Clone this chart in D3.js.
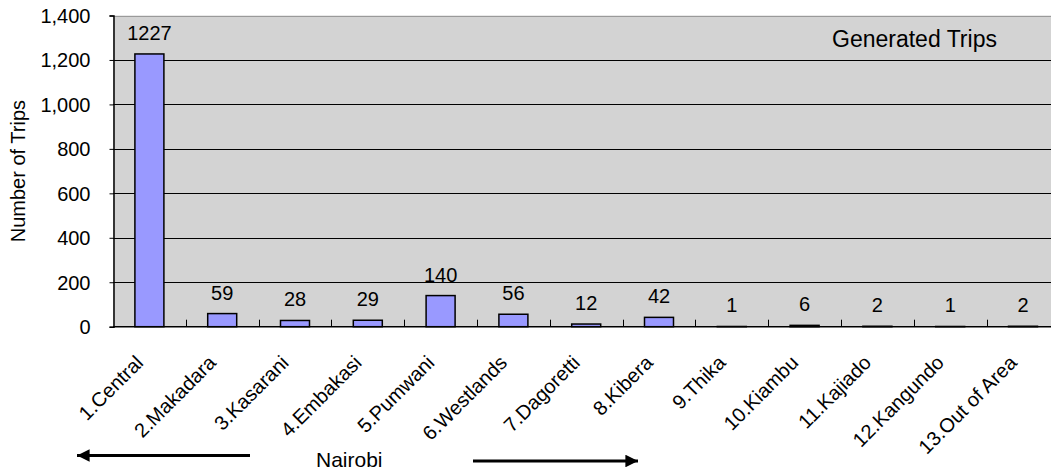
<!DOCTYPE html>
<html>
<head>
<meta charset="utf-8">
<script src="https://cdn.jsdelivr.net/npm/d3@7"></script>
<style>
  html, body { margin: 0; padding: 0; background: #ffffff; }
  svg { display: block; }
  text { font-family: "Liberation Sans", Arial, sans-serif; fill: #000; }
</style>
</head>
<body>
<svg id="chart" width="1051" height="474"></svg>
<script>
const categories = ["1.Central", "2.Makadara", "3.Kasarani", "4.Embakasi", "5.Pumwani", "6.Westlands",
  "7.Dagoretti", "8.Kibera", "9.Thika", "10.Kiambu", "11.Kajiado", "12.Kangundo", "13.Out of Area"];
const trips = [1227, 59, 28, 29, 140, 56, 12, 42, 1, 6, 2, 1, 2];
const yTicks = [0, 200, 400, 600, 800, 1000, 1200, 1400];
const chartTitle = "Generated Trips";
const yTitle = "Number of Trips";
const groupLabel = "Nairobi";

const svg = d3.select("#chart");
const plotLeft = 113, plotTop = 15.5, plotBottom = 326.7;
const bandW = 72.8;
const plotRight = plotLeft + bandW * categories.length;

const x = d3.scaleBand().domain(categories).range([plotLeft, plotRight]).paddingInner(0).paddingOuter(0);
const y = d3.scaleLinear().domain([0, 1400]).range([plotBottom, plotTop]);

// plot background
svg.append("rect")
  .attr("x", plotLeft).attr("y", plotTop)
  .attr("width", plotRight - plotLeft).attr("height", plotBottom - plotTop)
  .attr("fill", "#d3d3d3");

// gridlines
svg.append("g").selectAll("line")
  .data(yTicks.filter(d => d > 0))
  .join("line")
  .attr("x1", plotLeft).attr("x2", plotRight)
  .attr("y1", d => Math.round(y(d)) + 0.5).attr("y2", d => Math.round(y(d)) + 0.5)
  .attr("stroke", d => d === 1400 ? "#9a9a9a" : "#000")
  .attr("stroke-width", 1);

// bars
const barW = 29;
svg.append("g").selectAll("rect")
  .data(categories.map((c, i) => ({ c, v: trips[i] })))
  .join("rect")
  .attr("x", d => x(d.c) + x.bandwidth() / 2 - barW / 2)
  .attr("y", d => y(d.v))
  .attr("width", barW)
  .attr("height", d => y(0) - y(d.v))
  .attr("fill", "#9999ff")
  .attr("stroke", "#000")
  .attr("stroke-width", 1.5);

// data labels
svg.append("g").selectAll("text")
  .data(categories.map((c, i) => ({ c, v: trips[i] })))
  .join("text")
  .attr("x", d => x(d.c) + x.bandwidth() / 2)
  .attr("y", d => y(d.v) - 14)
  .attr("text-anchor", "middle")
  .attr("font-size", 20)
  .text(d => d.v);

// y axis
const yAxis = d3.axisLeft(y).tickValues(yTicks).tickSize(4).tickPadding(19)
  .tickFormat(d3.format(","));
const gy = svg.append("g").attr("transform", `translate(${plotLeft + 0.5},0)`).call(yAxis);
gy.select(".domain").attr("stroke", "#000").attr("stroke-width", 1.5);
gy.selectAll(".tick line").attr("stroke", "#000");
gy.selectAll(".tick text").attr("font-size", 20).attr("font-family", "Liberation Sans, Arial, sans-serif")
  .attr("fill", "#000").attr("dy", "0.35em");

// x axis (ticks at category boundaries, pointing up)
const boundaries = categories.map(c => x(c)).concat([plotRight]);
svg.append("line")
  .attr("x1", plotLeft).attr("x2", plotRight)
  .attr("y1", plotBottom).attr("y2", plotBottom)
  .attr("stroke", "#000").attr("stroke-width", 1.5);
svg.append("g").selectAll("line")
  .data(boundaries.slice(1))
  .join("line")
  .attr("x1", d => Math.round(d) + 0.5).attr("x2", d => Math.round(d) + 0.5)
  .attr("y1", plotBottom - 7).attr("y2", plotBottom)
  .attr("stroke", "#000").attr("stroke-width", 1);

// category labels rotated
svg.append("g").selectAll("text")
  .data(categories)
  .join("text")
  .attr("transform", d => `translate(${x(d) + x.bandwidth() / 2 - 5},364) rotate(-45)`)
  .attr("text-anchor", "end")
  .attr("font-size", 20)
  .text(d => d);

// title in plot
svg.append("text")
  .attr("x", 832).attr("y", 46.5)
  .attr("font-size", 23)
  .text(chartTitle);

// y axis title
svg.append("text")
  .attr("transform", `translate(25,${(plotTop + plotBottom) / 2}) rotate(-90)`)
  .attr("text-anchor", "middle")
  .attr("font-size", 20)
  .text(yTitle);

// group annotation with arrows
svg.append("text")
  .attr("x", 316).attr("y", 467)
  .attr("font-size", 21)
  .text(groupLabel);

const defs = svg.append("defs");
defs.append("marker").attr("id", "ah")
  .attr("viewBox", "0 0 10 10").attr("refX", 10).attr("refY", 5)
  .attr("markerWidth", 4.4).attr("markerHeight", 4.2).attr("markerUnits", "strokeWidth")
  .attr("orient", "auto")
  .append("path").attr("d", "M0,0 L10,5 L0,10 Z").attr("fill", "#000");

svg.append("line").attr("x1", 250).attr("y1", 455.5).attr("x2", 77).attr("y2", 455.5)
  .attr("stroke", "#000").attr("stroke-width", 3).attr("marker-end", "url(#ah)");
svg.append("line").attr("x1", 473).attr("y1", 461).attr("x2", 638).attr("y2", 461)
  .attr("stroke", "#000").attr("stroke-width", 3).attr("marker-end", "url(#ah)");
</script>
</body>
</html>
